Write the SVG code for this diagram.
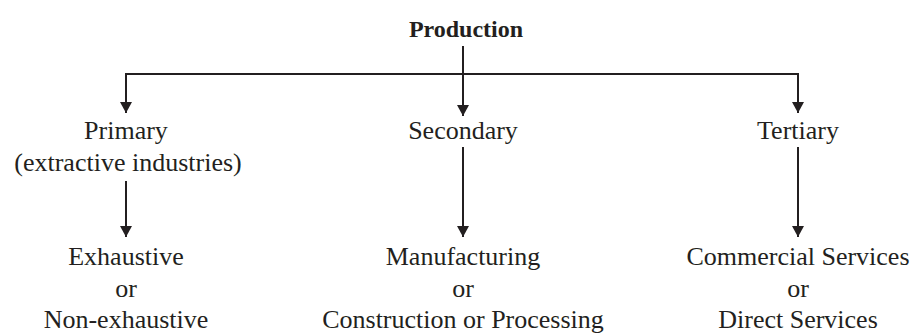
<svg xmlns="http://www.w3.org/2000/svg" width="917" height="333" viewBox="0 0 917 333">
<style>
text{font-family:"Liberation Serif","Times New Roman",serif;fill:#231f20;text-anchor:middle;font-size:26px}
.title{font-weight:bold;font-size:24px}
.ln{stroke:#231f20;stroke-width:2;fill:none}
</style>
<defs>
<marker id="ah" markerWidth="12" markerHeight="12" refX="11" refY="6" orient="auto" markerUnits="userSpaceOnUse">
<path d="M0,0 L11,6 L0,12 Z" fill="#231f20"/>
</marker>
</defs>
<g id="connectors">
<line class="ln" x1="463" y1="46" x2="463" y2="74"/>
<line class="ln" x1="125" y1="74" x2="799" y2="74"/>
<line class="ln" x1="126" y1="74" x2="126" y2="113" marker-end="url(#ah)"/>
<line class="ln" x1="463" y1="74" x2="463" y2="116" marker-end="url(#ah)"/>
<line class="ln" x1="798" y1="74" x2="798" y2="113" marker-end="url(#ah)"/>
<line class="ln" x1="126" y1="181" x2="126" y2="237" marker-end="url(#ah)"/>
<line class="ln" x1="463" y1="147" x2="463" y2="237" marker-end="url(#ah)"/>
<line class="ln" x1="798" y1="147" x2="798" y2="237" marker-end="url(#ah)"/>
</g>
<g id="production"><text class="title" x="466" y="37">Production</text></g>
<g id="primary"><text x="126" y="139">Primary</text><text x="128" y="171">(extractive industries)</text></g>
<g id="secondary"><text x="463" y="139">Secondary</text></g>
<g id="tertiary"><text x="798" y="139">Tertiary</text></g>
<g id="exhaustive"><text x="126" y="265">Exhaustive</text><text x="126" y="297">or</text><text x="126" y="328">Non-exhaustive</text></g>
<g id="manufacturing"><text x="463" y="265">Manufacturing</text><text x="463" y="297">or</text><text x="463" y="328">Construction or Processing</text></g>
<g id="commercial"><text x="798" y="265">Commercial Services</text><text x="798" y="297">or</text><text x="798" y="328">Direct Services</text></g>
</svg>
